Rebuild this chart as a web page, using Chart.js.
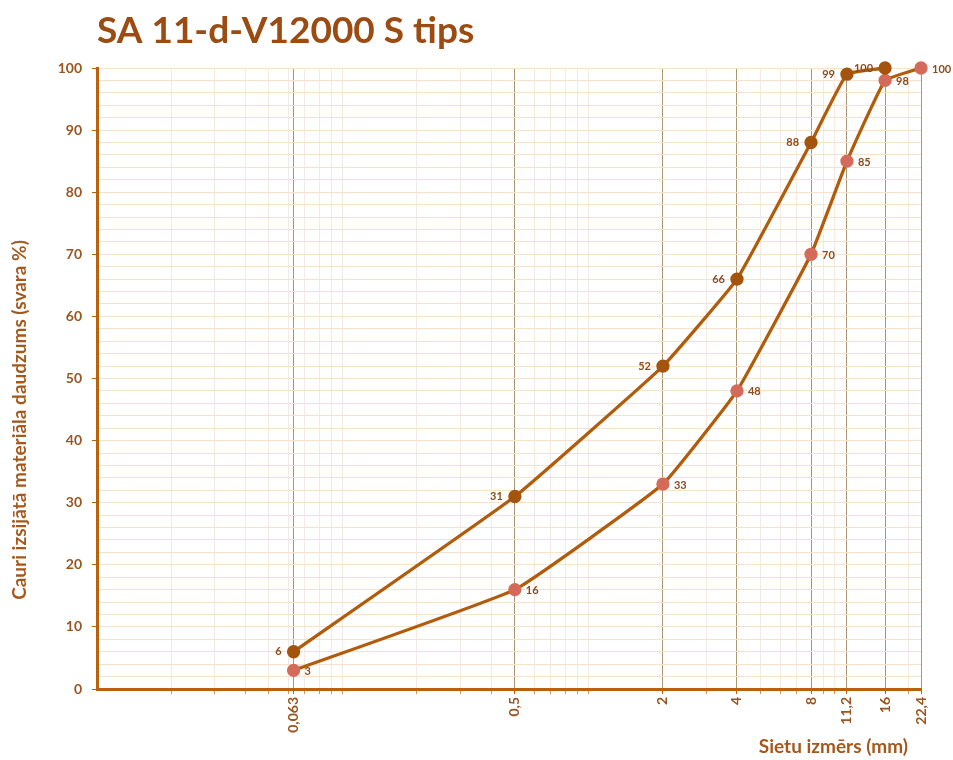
<!DOCTYPE html>
<html><head><meta charset="utf-8">
<script src="https://cdn.jsdelivr.net/npm/chart.js@4.4.1/dist/chart.umd.min.js"></script>
<style>html,body{margin:0;padding:0;background:#fff;} #wrap{position:relative;width:953px;height:760px;}</style>
</head><body><div id="wrap"><canvas id="c" width="953" height="760"></canvas></div>
<script>
const chartTitle = 'SA 11-d-V12000 S tips';
const yAxisTitle = 'Cauri izsijātā materiāla daudzums (svara %)';
const xAxisTitle = 'Sietu izmērs (mm)';
const sieveSizes = [0.063, 0.5, 2, 4, 8, 11.2, 16, 22.4];
const sieveLabels = ['0,063', '0,5', '2', '4', '8', '11,2', '16', '22,4'];
const upperPassing = [6, 31, 52, 66, 88, 99, 100];
const lowerPassing = [3, 16, 33, 48, 70, 85, 98, 100];
const minorLogTicks = [0.02, 0.03, 0.04, 0.05, 0.06, 0.07, 0.08, 0.09, 0.1, 0.2, 0.3, 0.4, 0.6, 0.7, 0.8, 0.9, 1, 3, 5, 6, 7, 9, 10, 20];

const FONT = 'Lato';
const TXT = '#9a5520';
const AXIS = '#b8620e';
const LINE = '#b15c0b';
const TITLE2 = '#a5581c';
const isMajor = v => sieveSizes.some(s => Math.abs(s - v) < 1e-9);

const upperData = upperPassing.map((y, i) => ({x: sieveSizes[i], y}));
const lowerData = lowerPassing.map((y, i) => ({x: sieveSizes[i], y}));

const labelPlugin = {
  id: 'pointLabels',
  afterDatasetsDraw(chart) {
    const ctx = chart.ctx;
    ctx.save();
    ctx.font = 'bold 11px ' + FONT;
    ctx.fillStyle = '#8d4c1f';
    ctx.textBaseline = 'middle';
    chart.data.datasets.forEach((ds, di) => {
      const meta = chart.getDatasetMeta(di);
      meta.data.forEach((pt, i) => {
        const v = String(ds.data[i].y);
        if (di === 0) { ctx.textAlign = 'right'; ctx.fillText(v, pt.x - 12, pt.y); }
        else { ctx.textAlign = 'left'; ctx.fillText(v, pt.x + 11, pt.y + 1); }
      });
    });
    ctx.restore();
  }
};
const axisTitlePlugin = {
  id: 'axisTitles',
  afterDraw(chart) {
    const ctx = chart.ctx;
    ctx.save();
    ctx.font = 'bold 19px ' + FONT;
    ctx.fillStyle = TITLE2;
    ctx.textBaseline = 'middle';
    ctx.textAlign = 'right';
    ctx.fillText(xAxisTitle, 908, 747);
    ctx.translate(20, 420);
    ctx.rotate(-Math.PI / 2);
    ctx.textAlign = 'center';
    ctx.fillText(yAxisTitle, 0, 0);
    ctx.restore();
  }
};

new Chart(document.getElementById('c'), {
  type: 'line',
  data: {
    datasets: [
      {data: upperData, borderColor: LINE, borderWidth: 3.3, tension: 0.1, clip: false,
       pointRadius: 5, pointBackgroundColor: '#a4540c', pointBorderColor: '#a4540c'},
      {data: lowerData, borderColor: LINE, borderWidth: 3.3, tension: 0.1, clip: false,
       pointRadius: 5, pointBackgroundColor: '#d46a5a', pointBorderColor: '#d46a5a'}
    ]
  },
  options: {
    responsive: false,
    animation: false,
    devicePixelRatio: 1,
    layout: {padding: {left: 0, right: 32, top: 0, bottom: 0}},
    plugins: {
      legend: {display: false},
      tooltip: {enabled: false},
      title: {display: true, text: chartTitle, align: 'start', fullSize: false, color: '#9c4c12',
              font: {family: FONT, size: 37, weight: 'bold'}, padding: {top: 8.6, bottom: 15}}
    },
    scales: {
      x: {
        type: 'logarithmic', position: 'bottom', min: 0.01, max: 22.4,
        afterBuildTicks: s => { s.ticks = [...minorLogTicks, ...sieveSizes].sort((a, b) => a - b).map(v => ({value: v})); },
        afterFit: s => { s.height = 71; },
        ticks: {autoSkip: false, minRotation: 90, maxRotation: 90, padding: 3, color: TXT,
                font: {family: FONT, size: 14, weight: 'bold'},
                callback: v => { const i = sieveSizes.findIndex(s => Math.abs(s - v) < 1e-9); return i >= 0 ? sieveLabels[i] : ''; }},
        grid: {color: c => isMajor(c.tick.value) ? '#ab9573' : '#f3ebe2',
               tickColor: c => isMajor(c.tick.value) ? AXIS : '#cf955a', tickLength: 5},
        border: {color: AXIS, width: 3},
        title: {display: false, text: xAxisTitle}
      },
      y: {
        min: 0, max: 100,
        afterFit: s => { s.width = 97; },
        ticks: {stepSize: 2, autoSkip: false, padding: 10, color: TXT,
                font: {family: FONT, size: 14, weight: 'bold'},
                callback: v => (v % 10 === 0 ? String(v) : '')},
        grid: {color: '#f7e2cc', tickColor: c => (c.tick.value % 10 === 0 ? AXIS : 'rgba(0,0,0,0)'), tickLength: 5},
        border: {color: AXIS, width: 3},
        title: {display: false, text: yAxisTitle}
      }
    }
  },
  plugins: [labelPlugin, axisTitlePlugin]
});
</script></body></html>
